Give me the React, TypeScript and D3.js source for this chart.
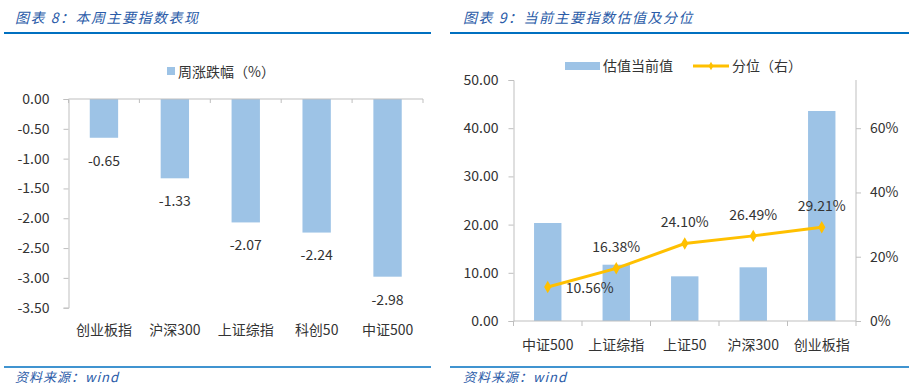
import { useEffect, useRef } from "react";
import * as d3 from "d3";

// 图表 8: weekly change
const weekCats = ["创业板指", "沪深300", "上证综指", "科创50", "中证500"];
const weekChange = [-0.65, -1.33, -2.07, -2.24, -2.98];
const weekTicks = [0, -0.5, -1, -1.5, -2, -2.5, -3, -3.5];

// 图表 9: valuation + percentile
const valCats = ["中证500", "上证综指", "上证50", "沪深300", "创业板指"];
const valNow = [20.33, 11.68, 9.27, 11.14, 43.57];
const valPct = [0.1056, 0.1638, 0.241, 0.2649, 0.2921];
const valTicks = [0, 10, 20, 30, 40, 50];
const pctTicks = [0, 0.2, 0.4, 0.6];

const FONT = '"Noto Sans CJK SC", "Microsoft YaHei", sans-serif';
const TEXT = "#333333";
const AXIS = "#bfbfbf";
const BAR = "#9dc3e6";
const LINE = "#ffc000";
const BLUE = "#0070c0";
const TITLE = "#2a5ba8";

export default function App() {
  const svgRef = useRef<SVGSVGElement>(null);

  useEffect(() => {
    if (!svgRef.current) return;
    const svg = d3.select(svgRef.current);
    svg.selectAll("*").remove();
    svg.attr("font-family", FONT);

    // titles, rules and footers
    const frames = [
      { x0: 4, x1: 431, title: "图表 8：本周主要指数表现", tx: 15 },
      { x0: 450, x1: 909, title: "图表 9：当前主要指数估值及分位", tx: 463 },
    ];
    frames.forEach((f) => {
      svg
        .append("text")
        .attr("x", f.tx)
        .attr("y", 23)
        .attr("fill", TITLE)
        .attr("font-size", 14)
        .attr("font-style", "italic")
        .attr("letter-spacing", 1.5)
        .text(f.title);
      svg
        .append("line")
        .attr("x1", f.x0)
        .attr("x2", f.x1)
        .attr("y1", 33)
        .attr("y2", 33)
        .attr("stroke", BLUE)
        .attr("stroke-width", 2);
      svg
        .append("line")
        .attr("x1", f.x0)
        .attr("x2", f.x1)
        .attr("y1", 367)
        .attr("y2", 367)
        .attr("stroke", BLUE)
        .attr("stroke-width", 1.5);
      svg
        .append("text")
        .attr("x", f.tx)
        .attr("y", 382)
        .attr("fill", TITLE)
        .attr("font-size", 13)
        .attr("font-style", "italic")
        .attr("letter-spacing", 1)
        .text("资料来源：wind");
    });

    // ---------- left chart ----------
    const xL = d3
      .scaleBand<string>()
      .domain(weekCats)
      .range([68.5, 423])
      .paddingInner(0.6)
      .paddingOuter(0.3);
    const yL = d3.scaleLinear().domain([-3.5, 0]).range([307.7, 99]);

    const left = svg.append("g");

    // legend
    left
      .append("rect")
      .attr("x", 167)
      .attr("y", 67)
      .attr("width", 8)
      .attr("height", 8)
      .attr("fill", BAR);
    left
      .append("text")
      .attr("x", 178)
      .attr("y", 72)
      .attr("dy", "0.35em")
      .attr("font-size", 14)
      .attr("fill", TEXT)
      .text("周涨跌幅（%）");

    left
      .append("g")
      .selectAll("rect")
      .data(weekChange)
      .join("rect")
      .attr("x", (_, i) => xL(weekCats[i])!)
      .attr("width", xL.bandwidth())
      .attr("y", yL(0))
      .attr("height", (d) => yL(d) - yL(0))
      .attr("fill", BAR);

    left
      .append("g")
      .selectAll("text")
      .data(weekChange)
      .join("text")
      .attr("x", (_, i) => xL(weekCats[i])! + xL.bandwidth() / 2)
      .attr("y", (d) => yL(d) + 23)
      .attr("dy", "0.35em")
      .attr("text-anchor", "middle")
      .attr("font-size", 14)
      .attr("fill", TEXT)
      .text((d) => d.toFixed(2));

    // y axis
    left
      .append("g")
      .attr("transform", "translate(68.5,0)")
      .call(
        d3
          .axisLeft(yL)
          .tickValues(weekTicks)
          .tickSize(5)
          .tickPadding(14)
          .tickFormat((d) => (d as number).toFixed(2)),
      )
      .call((g) => g.select(".domain").attr("stroke", AXIS))
      .call((g) => g.selectAll(".tick line").attr("stroke", AXIS))
      .call((g) =>
        g
          .selectAll(".tick text")
          .attr("fill", TEXT)
          .attr("font-size", 14)
          .attr("font-family", FONT),
      );

    // x axis at 0 (top), labels at bottom
    const xEdgesL = weekCats.map((c) => xL(c)! - (xL.step() - xL.bandwidth()) / 2);
    xEdgesL.push(423);
    left
      .append("line")
      .attr("x1", 68.5)
      .attr("x2", 423)
      .attr("y1", yL(0))
      .attr("y2", yL(0))
      .attr("stroke", AXIS);
    left
      .append("g")
      .selectAll("line")
      .data(xEdgesL)
      .join("line")
      .attr("x1", (d) => d)
      .attr("x2", (d) => d)
      .attr("y1", yL(0))
      .attr("y2", yL(0) + 4)
      .attr("stroke", AXIS);
    left
      .append("g")
      .selectAll("text")
      .data(weekCats)
      .join("text")
      .attr("x", (d) => xL(d)! + xL.bandwidth() / 2)
      .attr("y", 330)
      .attr("dy", "0.35em")
      .attr("text-anchor", "middle")
      .attr("font-size", 14)
      .attr("fill", TEXT)
      .text((d) => d);

    // ---------- right chart ----------
    const xR = d3
      .scaleBand<string>()
      .domain(valCats)
      .range([513.5, 856])
      .paddingInner(0.6)
      .paddingOuter(0.3);
    const yR = d3.scaleLinear().domain([0, 50]).range([321, 80]);
    const yP = d3.scaleLinear().domain([0, 0.75]).range([321, 80]);

    const right = svg.append("g");

    // legend
    right
      .append("rect")
      .attr("x", 565)
      .attr("y", 62)
      .attr("width", 35)
      .attr("height", 8)
      .attr("fill", BAR);
    right
      .append("text")
      .attr("x", 603)
      .attr("y", 66)
      .attr("dy", "0.35em")
      .attr("font-size", 14)
      .attr("fill", TEXT)
      .text("估值当前值");
    right
      .append("line")
      .attr("x1", 693)
      .attr("x2", 729)
      .attr("y1", 66)
      .attr("y2", 66)
      .attr("stroke", LINE)
      .attr("stroke-width", 3);
    right
      .append("path")
      .attr("transform", "translate(711,66)")
      .attr("d", d3.symbol().type(d3.symbolDiamond).size(20)())
      .attr("fill", LINE);
    right
      .append("text")
      .attr("x", 732)
      .attr("y", 66)
      .attr("dy", "0.35em")
      .attr("font-size", 14)
      .attr("fill", TEXT)
      .text("分位（右）");

    right
      .append("g")
      .selectAll("rect")
      .data(valNow)
      .join("rect")
      .attr("x", (_, i) => xR(valCats[i])!)
      .attr("width", xR.bandwidth())
      .attr("y", (d) => yR(d))
      .attr("height", (d) => yR(0) - yR(d))
      .attr("fill", BAR);

    // left y axis
    right
      .append("g")
      .attr("transform", "translate(513.5,0)")
      .call(
        d3
          .axisLeft(yR)
          .tickValues(valTicks)
          .tickSize(5)
          .tickPadding(10)
          .tickFormat((d) => (d as number).toFixed(2)),
      )
      .call((g) => g.select(".domain").attr("stroke", AXIS))
      .call((g) => g.selectAll(".tick line").attr("stroke", AXIS))
      .call((g) =>
        g
          .selectAll(".tick text")
          .attr("fill", TEXT)
          .attr("font-size", 14)
          .attr("font-family", FONT),
      );

    // right y axis
    right
      .append("g")
      .attr("transform", "translate(856,0)")
      .call(
        d3
          .axisRight(yP)
          .tickValues(pctTicks)
          .tickSize(5)
          .tickPadding(9)
          .tickFormat(d3.format(".0%")),
      )
      .call((g) =>
        g.select(".domain").attr("stroke", AXIS).attr("d", `M0,${yP(0)}V${yP(0.75)}`),
      )
      .call((g) => g.selectAll(".tick line").attr("stroke", AXIS))
      .call((g) =>
        g
          .selectAll(".tick text")
          .attr("fill", TEXT)
          .attr("font-size", 14)
          .attr("font-family", FONT),
      );

    // x axis
    const xEdgesR = valCats.map((c) => xR(c)! - (xR.step() - xR.bandwidth()) / 2);
    xEdgesR.push(856);
    right
      .append("line")
      .attr("x1", 513.5)
      .attr("x2", 856)
      .attr("y1", yR(0))
      .attr("y2", yR(0))
      .attr("stroke", AXIS);
    right
      .append("g")
      .selectAll("line")
      .data(xEdgesR)
      .join("line")
      .attr("x1", (d) => d)
      .attr("x2", (d) => d)
      .attr("y1", yR(0))
      .attr("y2", yR(0) + 5)
      .attr("stroke", AXIS);
    right
      .append("g")
      .selectAll("text")
      .data(valCats)
      .join("text")
      .attr("x", (d) => xR(d)! + xR.bandwidth() / 2)
      .attr("y", 345)
      .attr("dy", "0.35em")
      .attr("text-anchor", "middle")
      .attr("font-size", 14)
      .attr("fill", TEXT)
      .text((d) => d);

    // percentile line
    const cx = (i: number) => xR(valCats[i])! + xR.bandwidth() / 2;
    const line = d3
      .line<number>()
      .x((_, i) => cx(i))
      .y((d) => yP(d));
    right
      .append("path")
      .attr("d", line(valPct))
      .attr("fill", "none")
      .attr("stroke", LINE)
      .attr("stroke-width", 3);
    right
      .append("g")
      .selectAll("path")
      .data(valPct)
      .join("path")
      .attr("transform", (d, i) => `translate(${cx(i)},${yP(d)})`)
      .attr("d", d3.symbol().type(d3.symbolDiamond).size(45)())
      .attr("fill", LINE);
    right
      .append("g")
      .selectAll("text")
      .data(valPct)
      .join("text")
      .attr("x", (_, i) => (i === 0 ? cx(i) + 18 : cx(i)))
      .attr("y", (d, i) => (i === 0 ? yP(d) + 1 : yP(d) - 21))
      .attr("dy", "0.35em")
      .attr("text-anchor", (_, i) => (i === 0 ? "start" : "middle"))
      .attr("font-size", 14)
      .attr("fill", TEXT)
      .text((d) => (d * 100).toFixed(2) + "%");
  }, []);

  return (
    <svg
      ref={svgRef}
      width={909}
      height={387}
      style={{ position: "absolute", left: 0, top: 0, background: "#fff" }}
    />
  );
}
